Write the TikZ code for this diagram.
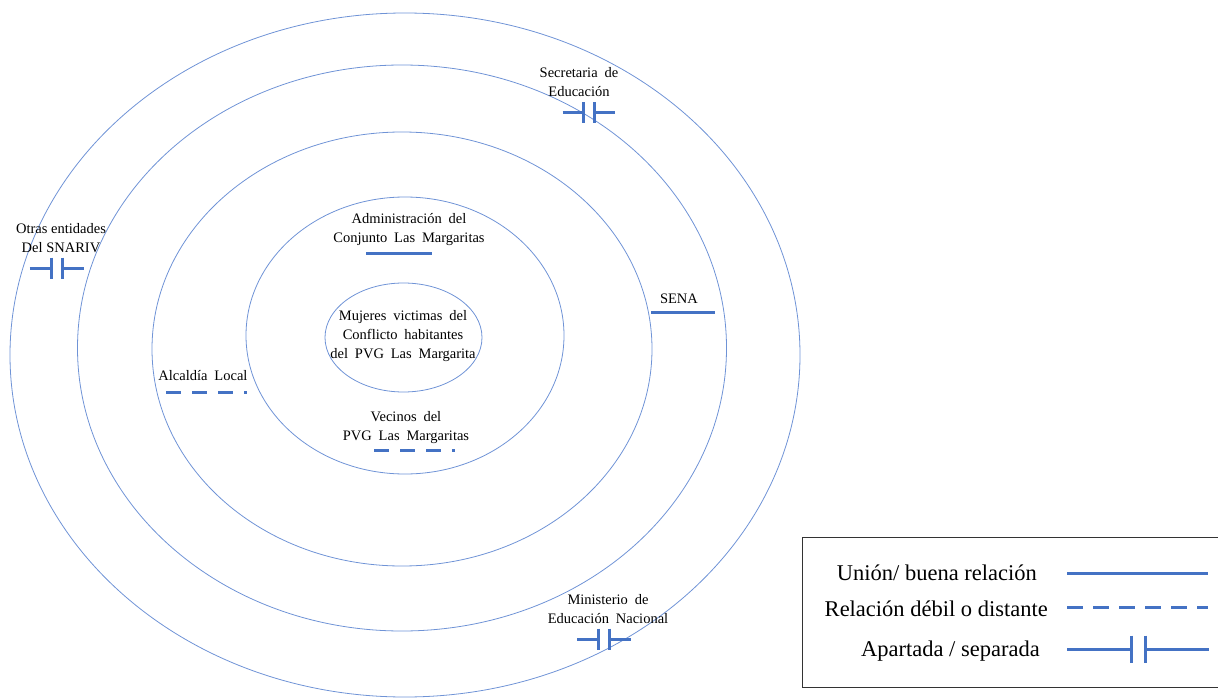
\documentclass[tikz,border=0pt]{standalone}
\usepackage{fontspec}
\setmainfont{Liberation Serif}
\newfontfamily\lblfont[WordSpace=1.9]{Liberation Serif}
\definecolor{relblue}{HTML}{4472C4}
\definecolor{ringblue}{HTML}{6F93D6}
\tikzset{
  ring/.style={draw=ringblue, line width=0.8pt},
  lbl/.style={font=\lblfont\fontsize{14.5}{19}\selectfont, align=center, inner sep=0pt},
  leg/.style={font=\fontsize{22.5}{26}\selectfont, anchor=east, inner sep=0pt},
  goodrel/.style={draw=relblue, line width=3pt},
  weakrel/.style={draw=relblue, line width=3pt, dash pattern=on 15pt off 11pt},
  seprel/.pic={
    \draw[relblue, line width=3pt] (-#1,0) -- (-5.5,0) (-5.5,-10.5) -- (-5.5,10.5)
      (5.5,-10.5) -- (5.5,10.5) (5.5,0) -- (#1,0);
  },
  sepleg/.pic={
    \draw[relblue, line width=3pt] (-#1,0) -- (-7,0) (-7,-13.5) -- (-7,13.5)
      (7,-13.5) -- (7,13.5) (7,0) -- (#1,0);
  },
}
\begin{document}
\begin{tikzpicture}[x=1pt, y=-1pt]
\useasboundingbox (0,0) rectangle (1218,698);
% rings
\draw[ring] (405,355) ellipse [x radius=395, y radius=342];
\draw[ring] (402,348) ellipse [x radius=324.5, y radius=283];
\draw[ring] (402,349) ellipse [x radius=250, y radius=217];
\draw[ring] (405,335.5) ellipse [x radius=159, y radius=138.5];
\draw[ring] (403.5,337.5) ellipse [x radius=78.5, y radius=54.5];
% labels
\node[lbl] (centro) at (403,336) {Mujeres victimas del\\Conflicto habitantes\\del PVG Las Margarita};
\node[lbl] (admin) at (409,230) {Administración del\\Conjunto Las Margaritas};
\node[lbl] (vecinos) at (406,428) {Vecinos del\\PVG Las Margaritas};
\node[lbl] (alcaldia) at (203,376) {Alcaldía Local};
\node[lbl] (sena) at (679,299) {SENA};
\node[lbl] (secre) at (579,82) {Secretaria de\\Educación};
\node[lbl, font=\fontsize{14.5}{19}\selectfont] (otras) at (61,238) {Otras entidades\\Del SNARIV};
\node[lbl] (minis) at (608,609) {Ministerio de\\Educación Nacional};
% relation marks
\coordinate (a1) at (366,253); \coordinate (a2) at (432,253);
\draw[goodrel] (a1) -- (a2);
\coordinate (s1) at (651,312); \coordinate (s2) at (715,312);
\draw[goodrel] (s1) -- (s2);
\coordinate (v1) at (374,450); \coordinate (v2) at (455,450);
\draw[weakrel] (v1) -- (v2);
\coordinate (l1) at (166,392); \coordinate (l2) at (247,392);
\draw[weakrel] (l1) -- (l2);
\pic at (588.5,113) {seprel=26};
\pic at (56.5,268) {seprel=27};
\pic at (604,639) {seprel=27};
% legend
\node[draw=black!80, line width=0.8pt, minimum width=416pt, minimum height=150pt, anchor=north west, inner sep=0pt] (legbox) at (802,537) {};
\node[leg] (l-union) at (1037,573) {Unión/ buena relación};
\node[leg] (l-debil) at (1048,609) {Relación débil o distante};
\node[leg] (l-sep) at (1040,651) {Apartada / separada};
\coordinate (g1) at (1067,573); \coordinate (g2) at (1208,573);
\draw[goodrel] (g1) -- (g2);
\coordinate (w1) at (1067,607); \coordinate (w2) at (1208,607);
\draw[weakrel, dash pattern=on 16pt off 10pt] (w1) -- (w2);
\pic at (1138,649) {sepleg=71};
\end{tikzpicture}
\end{document}
